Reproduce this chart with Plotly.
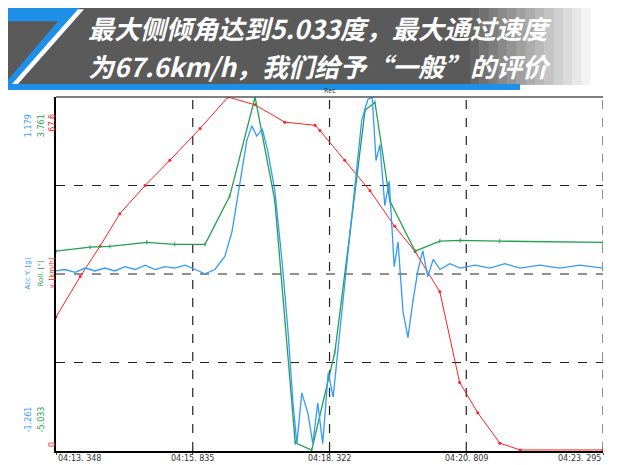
import plotly.graph_objects as go

tick_vals = [0, 2.487, 4.974, 7.461, 9.947]
tick_text = ["04:13. 348", "04:15. 835", "04:18. 322", "04:20. 809", "04:23. 295"]

red_t = [0, 0.44, 0.80, 1.16, 1.62, 2.07, 2.62, 3.13, 3.62, 4.16, 4.71, 4.80, 5.25, 5.71, 6.16, 6.53, 6.98, 7.34, 7.67, 8.07, 8.44, 9.947]
red_v = [25.6, 33.3, 39.1, 45.3, 50.7, 55.5, 61.6, 67.6, 66.1, 62.8, 62.2, 61.2, 55.5, 49.7, 42.9, 38.1, 30.4, 13.1, 7.3, 1.5, 0.2, 0.2]

green_t = [0, 0.62, 0.98, 1.65, 2.16, 2.71, 3.16, 3.62, 3.98, 4.35, 4.65, 5.07, 5.35, 5.62, 5.80, 6.07, 6.53, 6.98, 7.35, 8.07, 9.947]
green_v = [-0.07, 0.03, 0.05, 0.15, 0.10, 0.10, 1.30, 3.76, 1.18, -4.83, -5.01, -2.58, 0.43, 3.43, 3.63, 1.18, -0.07, 0.18, 0.20, 0.18, 0.15]

blue_t = [0, .16, .35, .53, .71, .89, 1.07, 1.25, 1.44, 1.62, 1.80, 1.98, 2.16, 2.35, 2.53, 2.71, 2.89, 3.07, 3.20, 3.35, 3.47, 3.56, 3.65, 3.75, 3.85, 3.98,
          4.11, 4.22, 4.31, 4.38, 4.47, 4.58, 4.67, 4.76, 4.85, 4.95, 5.04, 5.16, 5.31, 5.44, 5.56, 5.67, 5.75, 5.82, 5.89, 5.98, 6.06, 6.15, 6.22, 6.31,
          6.40, 6.49, 6.58, 6.67, 6.76, 6.86, 6.98, 7.16, 7.35, 7.62, 7.89, 8.16, 8.44, 8.80, 9.16, 9.53, 9.947]
blue_v = [-0.02, -0.01, -0.03, 0.0, -0.02, 0.0, -0.02, 0.01, -0.01, 0.02, -0.01, 0.01, 0.0, 0.02, -0.01, -0.04, -0.01, 0.08, 0.25, 0.60, 0.88, 0.98, 0.91, 0.96, 0.81, 0.53,
          0.05, -0.44, -0.93, -1.21, -0.86, -1.0, -1.21, -0.93, -1.21, -0.72, -0.89, -0.44, 0.12, 0.60, 1.02, 1.16, 1.18, 0.74, 0.85, 0.43, 0.60, 0.01, 0.18, -0.30,
          -0.48, -0.23, -0.02, 0.12, -0.06, 0.06, -0.01, 0.03, 0.0, 0.02, 0.0, 0.03, 0.0, 0.02, 0.0, 0.02, 0.0]

RED, GREEN, BLUE = "#ff2020", "#22a050", "#3399ff"

fig = go.Figure()
fig.add_trace(go.Scatter(x=red_t, y=red_v, mode="lines+markers", line=dict(color=RED, width=1),
                         marker=dict(size=3, color=RED), yaxis="y"))
fig.add_trace(go.Scatter(x=green_t, y=green_v, mode="lines+markers", line=dict(color=GREEN, width=1.3),
                         marker=dict(size=3, color=GREEN, symbol="line-ns-open"), yaxis="y2"))
fig.add_trace(go.Scatter(x=blue_t, y=blue_v, mode="lines", line=dict(color=BLUE, width=1.3), yaxis="y3"))

shapes = []
for xv in tick_vals[1:4]:
    shapes.append(dict(type="line", xref="x", yref="paper", x0=xv, x1=xv, y0=0, y1=1,
                       line=dict(color="#222", width=1.2, dash="dash"), layer="below"))
shapes.append(dict(type="line", xref="x", yref="paper", x0=9.947, x1=9.947, y0=0, y1=1,
                   line=dict(color="#444", width=1.2, dash="dash"), layer="below"))
for yv in [0.25, 0.5, 0.75]:
    shapes.append(dict(type="line", xref="paper", yref="paper", x0=0, x1=1, y0=yv, y1=yv,
                       line=dict(color="#222", width=1.2, dash="dash"), layer="below"))
shapes.append(dict(type="line", xref="paper", yref="paper", x0=0, x1=1, y0=1, y1=1, line=dict(color="#555", width=1.5)))

def px(x): return (x - 56) / 547
def py(y): return (448 - y) / 351
shapes.append(dict(type="rect", xref="paper", yref="paper", x0=px(8), x1=px(470), y0=py(85), y1=py(8),
                   fillcolor="#5a5a5a", line=dict(width=0), layer="below"))
steps = 14
for i in range(steps):
    xa = 470 + i * 130 / steps
    c = int(0x5a + (255 - 0x5a) * (i + 1) / steps)
    shapes.append(dict(type="rect", xref="paper", yref="paper", x0=px(xa), x1=px(xa + 130 / steps + 0.5), y0=py(85), y1=py(8),
                       fillcolor=f"rgb({c},{c},{c})", line=dict(width=0), layer="below"))
shapes.append(dict(type="rect", xref="paper", yref="paper", x0=px(8), x1=px(520), y0=py(90), y1=py(84),
                   fillcolor="#1e90e8", line=dict(width=0), layer="below"))
shapes.append(dict(type="path", xref="paper", yref="paper",
                   path=f"M {px(8)},{py(90)} L {px(8)},{py(80)} L {px(58)},{py(22)} L {px(8)},{py(22)} L {px(8)},{py(8)} L {px(80)},{py(8)} Z",
                   fillcolor="#1e90e8", line=dict(width=0)))
shapes.append(dict(type="path", xref="paper", yref="paper",
                   path=f"M {px(12)},{py(84)} L {px(78)},{py(10)} L {px(84)},{py(10)} L {px(18)},{py(84)} Z",
                   fillcolor="#ffffff", line=dict(width=0)))

title_font = dict(size=26, color="white", family="Noto Sans CJK SC")
annotations = []
for txt, yy in [("最大侧倾角达到5.033度，最大通过速度", 28), ("为67.6km/h，我们给予“一般”的评价", 66)]:
    annotations.append(dict(text=f"<b><i>{txt}</i></b>", xref="paper", yref="paper", x=px(86), y=py(yy),
                            xanchor="left", yanchor="middle", showarrow=False, font=title_font))
annotations.append(dict(text="Rec", xref="paper", yref="paper", x=0.5, y=1.0, yanchor="bottom", showarrow=False,
                        font=dict(size=7, color="#333")))
for i, (tv, tt) in enumerate(zip(tick_vals, tick_text)):
    annotations.append(dict(text=tt, xref="x", yref="paper", x=tv, y=0, yanchor="top",
                            xanchor="left" if i == 0 else ("right" if i == 4 else "center"),
                            yshift=-1, showarrow=False, font=dict(size=8, color="#333", family="DejaVu Sans")))
for xp, col, top, bot, mid in [(22, BLUE, "1.179", "-1.261", "Acc Y. [g]"),
                                (35, GREEN, "3.761", "-5.033", "Roll. [°]"),
                                (46, RED, "67.6", "0", "v. [km/h]")]:
    annotations.append(dict(text=top, xref="paper", yref="paper", x=px(xp), y=py(112), textangle=-90,
                            showarrow=False, font=dict(size=8, color=col, family="DejaVu Sans")))
    annotations.append(dict(text=bot, xref="paper", yref="paper", x=px(xp), y=py(432) if bot != "0" else py(446),
                            textangle=-90, showarrow=False, font=dict(size=8, color=col, family="DejaVu Sans")))
    annotations.append(dict(text=mid, xref="paper", yref="paper", x=px(xp), y=py(272), textangle=-90,
                            showarrow=False, font=dict(size=7, color=col, family="DejaVu Sans")))

axis_common = dict(showgrid=False, zeroline=False, showticklabels=False, fixedrange=True, automargin=False)
fig.update_layout(
    width=612, height=457, autosize=False, margin=dict(l=48, r=17, t=89, b=14, autoexpand=False),
    paper_bgcolor="white", plot_bgcolor="white", showlegend=False,
    xaxis=dict(range=[0, 9.947], tickvals=tick_vals, showticklabels=False, showgrid=False, zeroline=False,
               showline=True, linecolor="black", linewidth=2, ticks="outside", ticklen=2, automargin=False),
    yaxis=dict(range=[0, 67.6], showline=True, linecolor="black", linewidth=1.5, **axis_common),
    yaxis2=dict(range=[-5.033, 3.761], overlaying="y", **axis_common),
    yaxis3=dict(range=[-1.261, 1.179], overlaying="y", **axis_common),
    shapes=shapes, annotations=annotations,
)
fig.write_html("out.html")
